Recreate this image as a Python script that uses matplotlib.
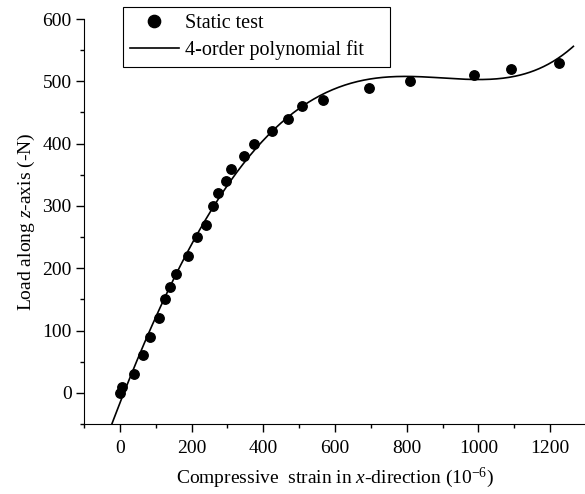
import matplotlib
matplotlib.use("Agg")
import matplotlib.pyplot as plt
import numpy as np

plt.rcParams['font.family'] = ['Liberation Serif', 'DejaVu Serif']
plt.rcParams['mathtext.fontset'] = 'custom'
plt.rcParams['mathtext.rm'] = 'Liberation Serif'
plt.rcParams['mathtext.it'] = 'Liberation Serif:italic'

# static test data (strain in 1e-6, load in N)
strain = [0, 5, 40, 65, 85, 110, 125, 140, 157, 190, 215, 240, 260, 275, 295,
          310, 347, 375, 423, 470, 508, 568, 695, 808, 988, 1092, 1225]
load = [0, 10, 30, 60, 90, 120, 150, 170, 190, 220, 250, 270, 300, 320, 340,
        360, 380, 400, 420, 440, 460, 470, 490, 500, 510, 520, 530]

# 4th order fit of the test points
coef = np.polyfit(strain, load, 4)
xfit = np.linspace(-40, 1265, 300)
yfit = np.polyval(coef, xfit)

fig = plt.figure(figsize=(5.85, 4.94), dpi=100)
ax = fig.add_axes([0.1436, 0.1417, 0.858, 0.8198])

ax.plot(strain, load, 'o', color='black', markersize=6.8, label='Static test')
ax.plot(xfit, yfit, '-', color='black', linewidth=1.2, label='4-order polynomial fit')

ax.set_xlim(-100, 1300)
ax.set_ylim(-50, 600)
ax.set_xticks(np.arange(0, 1201, 200))
ax.set_xticks(np.arange(-100, 1301, 100), minor=True)
ax.set_yticks(np.arange(0, 601, 100))
ax.set_yticks(np.arange(-50, 601, 50), minor=True)

ax.spines['top'].set_visible(False)
ax.spines['right'].set_visible(False)
ax.tick_params(which='major', direction='out', length=5.5, width=1, labelsize=14)
ax.tick_params(axis='x', which='major', pad=6)
ax.tick_params(which='minor', direction='out', length=3, width=1)

ax.set_xlabel('Compressive  strain in $\\it{x}$-direction (10$^{-6}$)', fontsize=14, labelpad=6)
ax.set_ylabel('Load along $\\it{z}$-axis (-N)', fontsize=14)

leg = ax.legend(loc='upper left', bbox_to_anchor=(0.078, 0.8, 0.532, 0.23),
                mode='expand', fontsize=14.5,
                frameon=True, fancybox=False, edgecolor='black', framealpha=1,
                markerscale=1.3, handlelength=2.4, handletextpad=0.3,
                borderpad=0.35, labelspacing=0.35, borderaxespad=0)
leg.get_frame().set_linewidth(0.8)

fig.savefig('out.png', dpi=100)
